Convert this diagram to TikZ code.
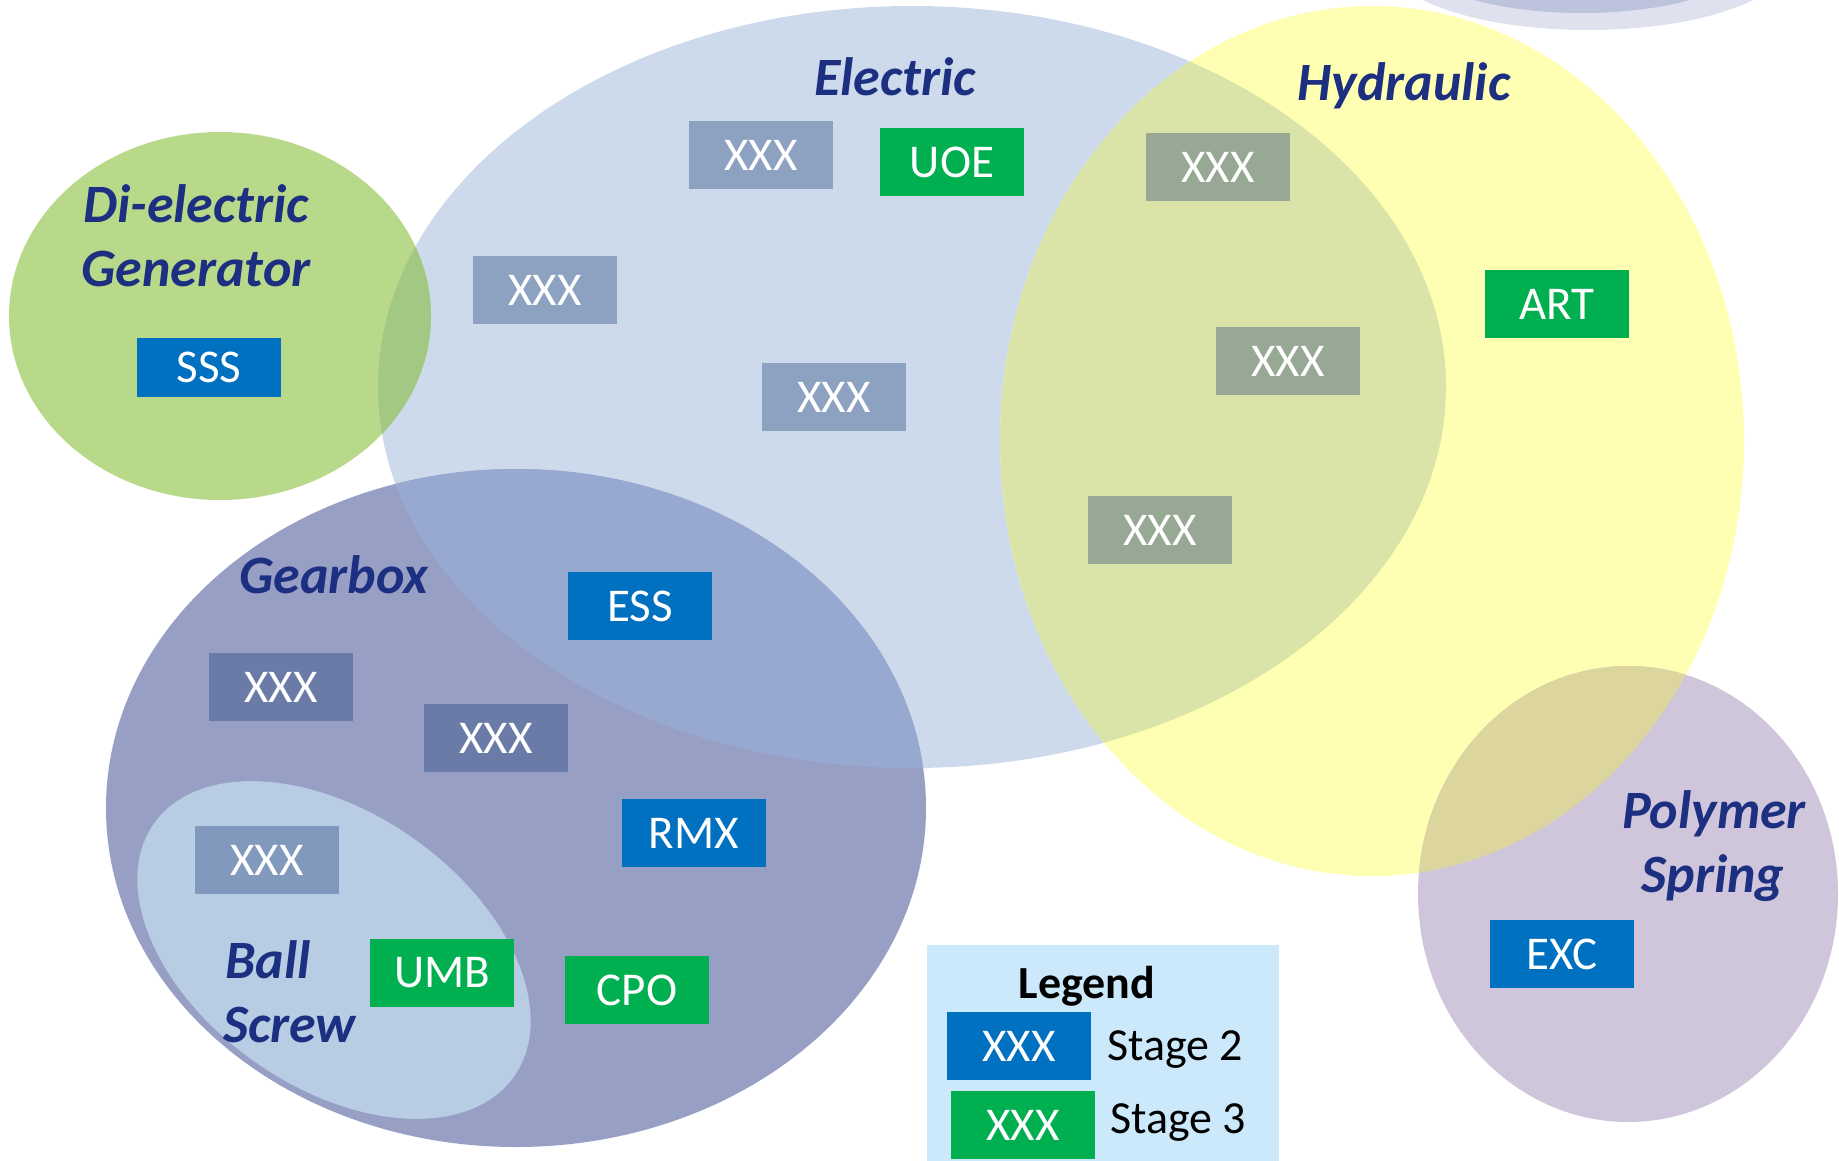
\documentclass[tikz,border=0pt]{standalone}
\usepackage{fontspec}
\setmainfont{Carlito}
\definecolor{elecfill}{HTML}{CCDAEB}
\definecolor{hydfill}{HTML}{FFFFB3}
\definecolor{genfill}{HTML}{B9D98A}
\definecolor{gearfill}{HTML}{989FC5}
\definecolor{ballfill}{HTML}{B8CCE4}
\definecolor{polyfill}{HTML}{CFC6DC}
\definecolor{elechyd}{HTML}{DAE3A8}
\definecolor{elecgen}{HTML}{A3C883}
\definecolor{elecgear}{HTML}{97A9D0}
\definecolor{hydpoly}{HTML}{DCD59D}
\definecolor{capouter}{HTML}{DFE1EE}
\definecolor{capinner}{HTML}{BEC3DD}
\definecolor{legendfill}{HTML}{CCE9FC}
\definecolor{labelcol}{HTML}{1C2F80}
\definecolor{pendingcol}{RGB}{15,50,110}
\definecolor{stagetwocol}{HTML}{0070C0}
\definecolor{stagethreecol}{HTML}{00B050}
\begin{document}
\begin{tikzpicture}[x=1pt,y=-1pt,
  every node/.style={inner sep=0pt},
  stagebox/.style={minimum width=144pt, minimum height=68pt, text=white,
    font=\fontsize{47}{56}\selectfont},
  pending/.style={stagebox, fill=pendingcol, fill opacity=0.33, text opacity=1},
  stagetwo/.style={stagebox, fill=stagetwocol},
  stagethree/.style={stagebox, fill=stagethreecol},
  grouplabel/.style={text=labelcol, anchor=base,
    font=\fontsize{54}{64}\selectfont\bfseries\itshape},
  legendtext/.style={text=black, anchor=base west,
    font=\fontsize{46}{56}\selectfont}
]
\useasboundingbox (0,0) rectangle (1839,1160);

% technology groups
\fill[elecfill] (912,387) ellipse [x radius=534pt, y radius=381pt];
\fill[hydfill] (1372,441) ellipse [x radius=372pt, y radius=435pt];
\fill[genfill] (220,316) ellipse [x radius=211pt, y radius=184pt];
\fill[gearfill] (516,808) ellipse [x radius=410pt, y radius=339pt];
\begin{scope}[shift={(334,950)}, rotate=-35]
  \fill[ballfill] (0,0) ellipse [x radius=220pt, y radius=137pt];
\end{scope}
\fill[polyfill] (1628,894) ellipse [x radius=210pt, y radius=228pt];

% overlaps with the electric group
\begin{scope}
  \clip (912,387) ellipse [x radius=534pt, y radius=381pt];
  \fill[elechyd] (1372,441) ellipse [x radius=372pt, y radius=435pt];
  \fill[elecgen] (220,316) ellipse [x radius=211pt, y radius=184pt];
  \fill[elecgear] (516,808) ellipse [x radius=410pt, y radius=339pt];
\end{scope}
% hydraulic / polymer overlap
\begin{scope}
  \clip (1372,441) ellipse [x radius=372pt, y radius=435pt];
  \fill[hydpoly] (1628,894) ellipse [x radius=210pt, y radius=228pt];
\end{scope}

% partly visible group at the top edge
\fill[capouter] (1588,-39) ellipse [x radius=200pt, y radius=69pt];
\fill[capinner] (1582,-52) ellipse [x radius=180pt, y radius=65pt];

% group labels
\node[grouplabel] (lelec) at (895,95) {Electric};
\node[grouplabel] (lhyd) at (1404,100) {Hydraulic};
\node[grouplabel] (lgen1) at (196,222) {Di-electric};
\node[grouplabel] (lgen2) at (196,286) {Generator};
\node[grouplabel] (lgear) at (334,593) {Gearbox};
\node[grouplabel, anchor=base west] (lball1) at (225,978) {Ball};
\node[grouplabel, anchor=base west] (lball2) at (223,1042) {Screw};
\node[grouplabel] (lpoly1) at (1714,828) {Polymer};
\node[grouplabel] (lpoly2) at (1713,892) {Spring};

% items
\node[pending] (e1) at (761,155) {XXX};
\node[stagethree] (uoe) at (952,162) {UOE};
\node[pending] (e2) at (545,290) {XXX};
\node[pending] (e3) at (834,397) {XXX};
\node[pending] (h1) at (1218,167) {XXX};
\node[pending] (h2) at (1288,361) {XXX};
\node[pending] (h3) at (1160,530) {XXX};
\node[stagethree] (art) at (1557,304) {ART};
\node[stagetwo, minimum height=59pt] (sss) at (209,367) {SSS};
\node[stagetwo] (ess) at (640,606) {ESS};
\node[pending] (g1) at (281,687) {XXX};
\node[pending] (g2) at (496,738) {XXX};
\node[stagetwo] (rmx) at (694,833) {RMX};
\node[pending] (b1) at (267,860) {XXX};
\node[stagethree] (umb) at (442,973) {UMB};
\node[stagethree] (cpo) at (637,990) {CPO};
\node[stagetwo] (exc) at (1562,954) {EXC};

% legend
\fill[legendfill] (927,945) rectangle (1279,1165);
\node[anchor=base, font=\fontsize{46}{56}\selectfont\bfseries] (ltitle) at (1087,998) {Legend};
\node[stagetwo] (key2) at (1019,1046) {XXX};
\node[stagethree] (key3) at (1023,1125) {XXX};
\node[legendtext] (txt2) at (1107,1060) {Stage 2};
\node[legendtext] (txt3) at (1110,1133) {Stage 3};
\end{tikzpicture}
\end{document}
